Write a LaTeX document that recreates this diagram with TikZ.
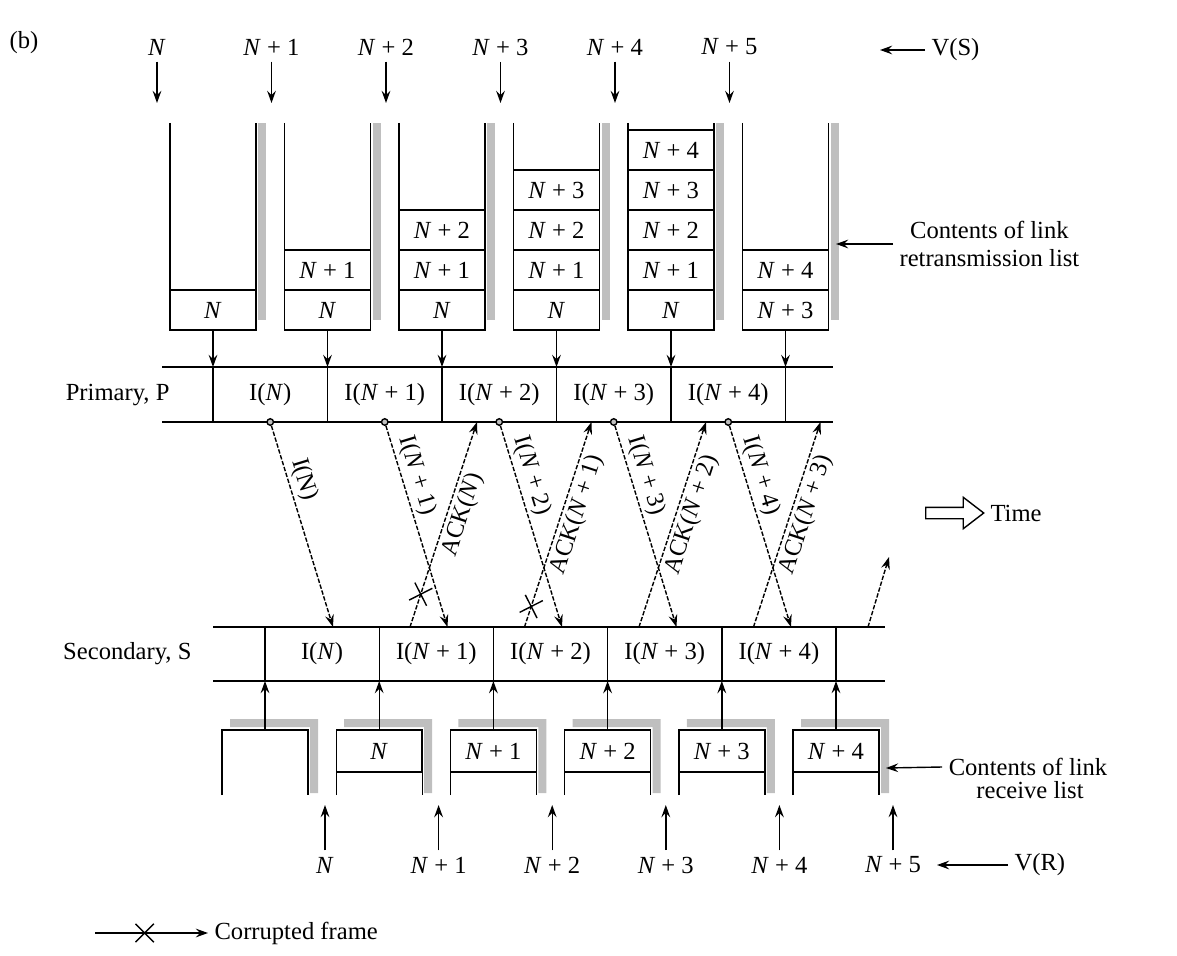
\documentclass[tikz,border=0pt]{standalone}
\usepackage{fontspec}
\setmainfont{Liberation Serif}
\usepackage{tikz}
\usetikzlibrary{arrows.meta, positioning, shapes.misc, shapes.arrows}

\newcommand{\Nv}{\textit{N}}

\begin{document}
\begin{tikzpicture}[
    x=0.02cm, y=-0.02cm, line width=0.8pt,
    font=\fontsize{14}{16}\selectfont,
    arr/.style={-{Stealth[length=7pt, width=5pt, inset=2.5pt]}},
    dline/.style={dash pattern=on 2.5pt off 1pt},
    cell/.style={draw, minimum width=1.72cm, minimum height=0.8cm, inner sep=0pt, outer sep=0pt},
    rcell/.style={draw, minimum width=1.72cm, minimum height=0.84cm, inner sep=0pt, outer sep=0pt},
    bar/.style={fill=gray!50},
    dot/.style={circle, draw, fill=gray!50, inner sep=0pt, minimum size=0.13cm},
    corrupt/.style={draw, solid, arrows=-, cross out, minimum size=0.34cm, inner sep=0pt, sloped},
    lbl/.style={inner sep=2pt},
    tarrow/.style={draw, single arrow, single arrow tip angle=75, single arrow head extend=0.2cm, minimum height=1.16cm, inner sep=0.1cm}
  ]
  \useasboundingbox (0,0) rectangle (1177,956);

  \node (blabel) at (24,43) {(b)};

  % send state variable V(S)
  \node (s0) at (157,47) {\Nv};
  \node (s1) at (271.5,47) {\Nv{} + 1};
  \node (s2) at (386,47) {\Nv{} + 2};
  \node (s3) at (500.5,47) {\Nv{} + 3};
  \node (s4) at (615,47) {\Nv{} + 4};
  \node (s5) at (729.5,47) {\Nv{} + 5};
  \foreach \i/\x in {0/157,1/271.5,2/386,3/500.5,4/615,5/729.5} {
    \coordinate (sa\i) at (\x,103);
    \draw[arr] (s\i) -- (sa\i);
  }
  \node[anchor=west] (vs) at (925,50) {V(S)};
  \coordinate (vsend) at (880,50);
  \draw[arr] (vs.west) -- (vsend);

  % retransmission lists
  \foreach \x in {170,284.5,399,513.5,628,742.5} {
    \fill[bar] (\x+88,123) rectangle (\x+96,320);
    \draw (\x,123) |- (\x+86,330) -- (\x+86,123);
  }
  \node[cell] (q0-0) at (213,310) {\Nv};
  \node[cell] (q1-0) at (327.5,310) {\Nv};
  \node[cell, above=0pt of q1-0] (q1-1) {\Nv{} + 1};
  \node[cell] (q2-0) at (442,310) {\Nv};
  \node[cell, above=0pt of q2-0] (q2-1) {\Nv{} + 1};
  \node[cell, above=0pt of q2-1] (q2-2) {\Nv{} + 2};
  \node[cell] (q3-0) at (556.5,310) {\Nv};
  \node[cell, above=0pt of q3-0] (q3-1) {\Nv{} + 1};
  \node[cell, above=0pt of q3-1] (q3-2) {\Nv{} + 2};
  \node[cell, above=0pt of q3-2] (q3-3) {\Nv{} + 3};
  \node[cell] (q4-0) at (671,310) {\Nv};
  \node[cell, above=0pt of q4-0] (q4-1) {\Nv{} + 1};
  \node[cell, above=0pt of q4-1] (q4-2) {\Nv{} + 2};
  \node[cell, above=0pt of q4-2] (q4-3) {\Nv{} + 3};
  \node[cell, above=0pt of q4-3] (q4-4) {\Nv{} + 4};
  \node[cell] (q5-0) at (785.5,310) {\Nv{} + 3};
  \node[cell, above=0pt of q5-0] (q5-1) {\Nv{} + 4};
  \node[anchor=west, align=center] (rtx) at (893,244) {Contents of link\\retransmission list};
  \coordinate (rtxend) at (836,244);
  \draw[arr] (rtx.west) -- (rtxend);

  % primary
  \draw (162,367) -- (833,367);
  \draw (162,422) -- (833,422);
  \node[anchor=east] (prim) at (176,395) {Primary, P};
  \foreach \i/\x in {0/213,1/327.5,2/442,3/556.5,4/671,5/785.5} {
    \coordinate (pt\i) at (\x,367);
    \coordinate (pb\i) at (\x,422);
    \draw[arr] (q\i-0.south) -- (pt\i);
    \draw (pt\i) -- (pb\i);
  }
  \node (pi0) at (270.25,395) {I(\Nv)};
  \node (pi1) at (384.75,395) {I(\Nv{} + 1)};
  \node (pi2) at (499.25,395) {I(\Nv{} + 2)};
  \node (pi3) at (613.75,395) {I(\Nv{} + 3)};
  \node (pi4) at (728.25,395) {I(\Nv{} + 4)};
  \foreach \i/\x in {0/270.25,1/384.75,2/499.25,3/613.75,4/728.25}
    \node[dot] (pd\i) at (\x,422) {};

  % frames and acknowledgements on the link
  \foreach \k in {0,...,4} {
    \coordinate (ie\k) at (333+114.5*\k,627);
    \coordinate (as\k) at (410+114.5*\k,627);
  }
  \foreach \k in {0,...,3}
    \coordinate (ae\k) at (477+114.5*\k,422);
  \coordinate (ae4) at (889,557);
  \draw[arr, dline] (pd0) -- node[lbl, sloped, above, pos=0.29] {I(N)} (ie0);
  \draw[arr, dline] (pd1) -- node[lbl, sloped, above, pos=0.27] {I(\Nv{} + 1)} (ie1);
  \draw[arr, dline] (pd2) -- node[lbl, sloped, above, pos=0.27] {I(\Nv{} + 2)} (ie2);
  \draw[arr, dline] (pd3) -- node[lbl, sloped, above, pos=0.27] {I(\Nv{} + 3)} (ie3);
  \draw[arr, dline] (pd4) -- node[lbl, sloped, above, pos=0.27] {I(\Nv{} + 4)} (ie4);
  \draw[arr, dline] (as0) -- node[lbl, sloped, below, pos=0.57] {ACK(\Nv)} node[corrupt, pos=0.16] {} (ae0);
  \draw[arr, dline] (as1) -- node[lbl, sloped, below, pos=0.57] {ACK(\Nv{} + 1)} node[corrupt, pos=0.1] {} (ae1);
  \draw[arr, dline] (as2) -- node[lbl, sloped, below, pos=0.57] {ACK(\Nv{} + 2)} (ae2);
  \draw[arr, dline] (as3) -- node[lbl, sloped, below, pos=0.57] {ACK(\Nv{} + 3)} (ae3);
  \draw[arr, dline] (as4) -- (ae4);

  \node[tarrow] (timearr) at (951,513) {};
  \node[anchor=west] (time) at (984,513) {Time};

  % secondary
  \draw (213,627) -- (885,627);
  \draw (213,681) -- (885,681);
  \node[anchor=east] (sec) at (198,654) {Secondary, S};
  \node (si0) at (322.1,654) {I(\Nv)};
  \node (si1) at (436.3,654) {I(\Nv{} + 1)};
  \node (si2) at (550.5,654) {I(\Nv{} + 2)};
  \node (si3) at (664.7,654) {I(\Nv{} + 3)};
  \node (si4) at (778.9,654) {I(\Nv{} + 4)};

  % receive lists
  \foreach \j/\x in {0/265,1/379.2,2/493.4,3/607.6,4/721.8,5/836} {
    \fill[bar] (\x-35,719) -- (\x+53,719) -- (\x+53,793) -- (\x+45,793) -- (\x+45,727) -- (\x-35,727) -- cycle;
    \draw (\x-43,795) |- (\x+43,730) -- (\x+43,795);
    \coordinate (rt\j) at (\x,730);
    \coordinate (sb\j) at (\x,681);
    \coordinate (st\j) at (\x,627);
    \draw[arr] (rt\j) -- (sb\j);
    \draw (sb\j) -- (st\j);
  }
  \node[rcell] (rc1) at (379.2,751) {\Nv};
  \node[rcell] (rc2) at (493.4,751) {\Nv{} + 1};
  \node[rcell] (rc3) at (607.6,751) {\Nv{} + 2};
  \node[rcell] (rc4) at (721.8,751) {\Nv{} + 3};
  \node[rcell] (rc5) at (836,751) {\Nv{} + 4};
  \node (rcv1) at (1028,767) {Contents of link};
  \node (rcv2) at (1030,790) {receive list};
  \coordinate (rcvend) at (886,768);
  \draw[arr] (rcv1.west) -- (rcvend);

  % receive state variable V(R)
  \node (r0) at (325,865) {\Nv};
  \node (r1) at (438.6,865) {\Nv{} + 1};
  \node (r2) at (552.2,865) {\Nv{} + 2};
  \node (r3) at (665.8,865) {\Nv{} + 3};
  \node (r4) at (779.4,865) {\Nv{} + 4};
  \node (r5) at (893,865) {\Nv{} + 5};
  \foreach \j/\x in {0/325,1/438.6,2/552.2,3/665.8,4/779.4,5/893} {
    \coordinate (ra\j) at (\x,805);
    \draw[arr] (r\j) -- (ra\j);
  }
  \node[anchor=west] (vr) at (1008,865) {V(R)};
  \coordinate (vrend) at (937,865);
  \draw[arr] (vr.west) -- (vrend);

  % legend
  \coordinate (lg0) at (95,933);
  \node[anchor=west] (lgtext) at (208,933) {Corrupted frame};
  \draw[arr] (lg0) -- node[corrupt, pos=0.44] {} (lgtext.west);
\end{tikzpicture}
\end{document}
